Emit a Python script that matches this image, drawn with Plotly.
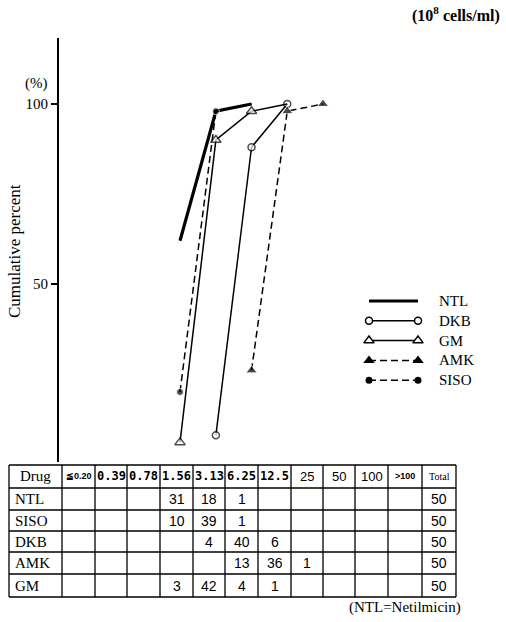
import plotly.graph_objects as go

# MIC classes (10^8 cells/ml) and number of strains per class
conc_labels = ["≦0.20", "0.39", "0.78", "1.56", "3.13", "6.25", "12.5", "25", "50", "100", ">100"]
conc_values = [0.20, 0.39, 0.78, 1.56, 3.13, 6.25, 12.5, 25, 50, 100, 200]

drugs = ["NTL", "SISO", "DKB", "AMK", "GM"]
ntl_counts = [0, 0, 0, 31, 18, 1, 0, 0, 0, 0, 0]
siso_counts = [0, 0, 0, 10, 39, 1, 0, 0, 0, 0, 0]
dkb_counts = [0, 0, 0, 0, 4, 40, 6, 0, 0, 0, 0]
amk_counts = [0, 0, 0, 0, 0, 13, 36, 1, 0, 0, 0]
gm_counts = [0, 0, 0, 3, 42, 4, 1, 0, 0, 0, 0]
totals = [50, 50, 50, 50, 50]

counts_by_drug = {"NTL": ntl_counts, "SISO": siso_counts, "DKB": dkb_counts,
                  "AMK": amk_counts, "GM": gm_counts}
total_by_drug = dict(zip(drugs, totals))

W, H = 506, 622
SERIF = "Liberation Serif, Times New Roman, serif"
MONO = "DejaVu Sans Mono, Liberation Mono, monospace"
SANS = "Liberation Sans Narrow, Liberation Sans, Arial, sans-serif"


def px(x, y):
    """Pixel position -> paper fraction."""
    return x / W, 1 - y / H


def cumulative(counts, total):
    """Cumulative percent from the first populated class up to 100 %."""
    xs, ys, run = [], [], 0
    for c, n in zip(conc_values, counts):
        run += n
        if run == 0:
            continue
        xs.append(c)
        ys.append(100.0 * run / total)
        if run >= total:
            break
    return xs, ys


# drawing styles, in legend order
styles = {
    "NTL": dict(line=dict(color="black", width=3.2), mode="lines", marker=None, hide_last=False),
    "DKB": dict(line=dict(color="black", width=1.5), mode="lines+markers",
                marker=dict(symbol="circle", size=7, color="white",
                            line=dict(color="black", width=1.5)),
                hide_last=False),
    "GM": dict(line=dict(color="black", width=1.5), mode="lines+markers",
               marker=dict(symbol="triangle-up", size=9, color="white",
                           line=dict(color="black", width=1.5)),
               hide_last=True),
    "AMK": dict(line=dict(color="black", width=1.5, dash="7px,4px"), mode="lines+markers",
                marker=dict(symbol="triangle-up", size=10, color="black"), hide_last=False),
    "SISO": dict(line=dict(color="black", width=1.5, dash="7px,4px"), mode="lines+markers",
                 marker=dict(symbol="circle", size=7, color="black"), hide_last=True),
}
legend_order = ["NTL", "DKB", "GM", "AMK", "SISO"]

fig = go.Figure()

for name in legend_order:
    st = styles[name]
    xs, ys = cumulative(counts_by_drug[name], total_by_drug[name])
    kw = dict(x=xs, y=ys, mode=st["mode"], line=st["line"], name=name,
              showlegend=False, hoverinfo="x+y+name")
    if st["marker"] is not None:
        m = dict(st["marker"])
        sizes = [m["size"]] * len(xs)
        if st["hide_last"]:
            sizes[-1] = 0
        m["size"] = sizes
        kw["marker"] = m
    fig.add_trace(go.Scatter(**kw))

# legend key drawn on a pixel-unit overlay
leg_x0, leg_x1, leg_text_x = 369, 418, 437
leg_y0, leg_step = 301, 19.8
for i, name in enumerate(legend_order):
    st = styles[name]
    y = leg_y0 + i * leg_step
    kw = dict(x=[leg_x0, leg_x1], y=[y, y], mode=st["mode"], line=st["line"],
              xaxis="x2", yaxis="y2", showlegend=False, hoverinfo="skip")
    if st["marker"] is not None:
        kw["marker"] = st["marker"]
    fig.add_trace(go.Scatter(**kw))
    fig.add_annotation(x=leg_text_x, y=y, xref="x2", yref="y2", text=name,
                       showarrow=False, xanchor="left", yanchor="middle",
                       font=dict(family=SERIF, size=15, color="black"))

# ---- count table, ruled with shapes ----
n_conc = len(conc_labels)
col_widths = [53, 33, 32, 33, 33, 32, 33, 33, 32, 32, 33, 34, 34]
row_heights = [23, 22, 21, 21, 22, 23]
tbl_x0, tbl_y0 = 9, 465
col_edges = [tbl_x0]
for w_ in col_widths:
    col_edges.append(col_edges[-1] + w_)
row_edges = [tbl_y0]
for h_ in row_heights:
    row_edges.append(row_edges[-1] + h_)

line_style = dict(color="black", width=1.3)
for xe in col_edges:
    x_, y0_ = px(xe, row_edges[0])
    _, y1_ = px(xe, row_edges[-1])
    fig.add_shape(type="line", xref="paper", yref="paper", x0=x_, x1=x_, y0=y0_, y1=y1_,
                  line=line_style)
for ye in row_edges:
    x0_, y_ = px(col_edges[0], ye)
    x1_, _ = px(col_edges[-1], ye)
    fig.add_shape(type="line", xref="paper", yref="paper", x0=x0_, x1=x1_, y0=y_, y1=y_,
                  line=line_style)


def cell_text(col, row, text, family, size, align="center", weight="normal"):
    yc = (row_edges[row] + row_edges[row + 1]) / 2
    if align == "left":
        xc, anchor = col_edges[col] + 4, "left"
    else:
        xc, anchor = (col_edges[col] + col_edges[col + 1]) / 2, "center"
    xp, yp = px(xc, yc)
    fig.add_annotation(x=xp, y=yp, xref="paper", yref="paper", text=text,
                       showarrow=False, xanchor=anchor, yanchor="middle",
                       font=dict(family=family, size=size, color="black", weight=weight))


header_vals = ["Drug"] + conc_labels + ["Total"]
header_style = ([(SERIF, 15, "normal")] + [(SANS, 9, "bold")] + [(MONO, 12, "bold")] * 6
                + [(SANS, 13, "normal")] * 3 + [(SANS, 9, "bold")] + [(SERIF, 10, "normal")])
for c, (txt, (fam, sz, wt)) in enumerate(zip(header_vals, header_style)):
    cell_text(c, 0, txt, fam, sz, weight=wt)

for r, d in enumerate(drugs, start=1):
    cell_text(0, r, d, SERIF, 15, align="left")
    for j in range(n_conc):
        n = counts_by_drug[d][j]
        if n:
            cell_text(j + 1, r, str(n), SANS, 14)
    cell_text(n_conc + 1, r, str(total_by_drug[d]), SANS, 14)

fig.update_layout(
    width=W, height=H, margin=dict(l=0, r=0, t=0, b=0),
    paper_bgcolor="white", plot_bgcolor="rgba(0,0,0,0)",
    xaxis=dict(type="log", range=[-0.8263, 2.7207], domain=[59 / W, 480 / W],
               visible=False, fixedrange=True),
    yaxis=dict(range=[0.556, 118.33], domain=[(H - 462) / H, (H - 38) / H],
               showline=True, linecolor="black", linewidth=2,
               ticks="outside", ticklen=6, tickwidth=1.5, tickcolor="black",
               tickvals=[50, 100], ticktext=["50", "100"],
               tickfont=dict(family=SERIF, size=15, color="black"),
               showgrid=False, zeroline=False, fixedrange=True),
    xaxis2=dict(range=[0, W], domain=[0, 1], visible=False, anchor="y2", fixedrange=True),
    yaxis2=dict(range=[H, 0], domain=[0, 1], visible=False, anchor="x2", fixedrange=True),
    showlegend=False,
)

fig.add_annotation(x=14 / W, y=1 - 251 / H, xref="paper", yref="paper",
                   text="Cumulative percent", textangle=-90, showarrow=False,
                   xanchor="center", yanchor="middle",
                   font=dict(family=SERIF, size=17, color="black"))
fig.add_annotation(x=36 / W, y=1 - 83 / H, xref="paper", yref="paper",
                   text="(%)", showarrow=False, xanchor="center", yanchor="middle",
                   font=dict(family=SERIF, size=15, color="black"))
fig.add_annotation(x=502 / W, y=1 - 15 / H, xref="paper", yref="paper",
                   text="(10<sup>8</sup> cells/ml)", showarrow=False,
                   xanchor="right", yanchor="middle",
                   font=dict(family=SERIF, size=16, color="black", weight="bold"))
fig.add_annotation(x=463 / W, y=1 - 607 / H, xref="paper", yref="paper",
                   text="(NTL=Netilmicin)", showarrow=False,
                   xanchor="right", yanchor="middle",
                   font=dict(family=SERIF, size=15, color="black"))

fig.write_html("out.html")
